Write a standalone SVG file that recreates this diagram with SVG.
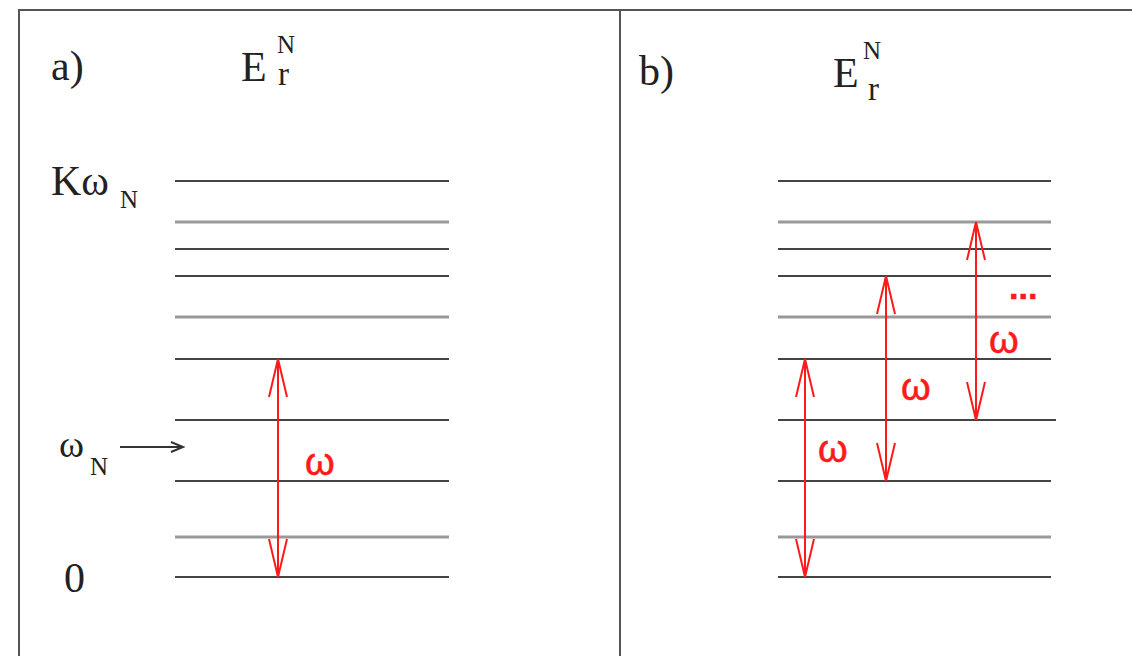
<svg xmlns="http://www.w3.org/2000/svg" width="1132" height="656" viewBox="0 0 1132 656">
  <style>
    .frame { stroke: #555; stroke-width: 2; fill: none; }
    .lvl { stroke: #444; stroke-width: 2; }
    .lvlg { stroke: #999; stroke-width: 3; }
    .serif { font-family: "Liberation Serif", "Times New Roman", serif; fill: #222; }
    .red { stroke: #ff1a1a; stroke-width: 2; fill: none; }
    .redt { font-family: "Liberation Sans", Arial, sans-serif; fill: #ff1a1a; stroke: #ff1a1a; stroke-width: 0.6; }
    .blk { stroke: #333; stroke-width: 2; fill: none; }
  </style>
  <rect width="1132" height="656" fill="#fff"/>
  <g id="frame">
    <path class="frame" d="M19 656 V10 H1132 M620 10 V656"/>
  </g>
  <g id="panel-a">
    <text class="serif" x="51" y="80" font-size="42">a)</text>
    <text class="serif" x="241" y="81" font-size="42">E</text>
    <text class="serif" x="277" y="53" font-size="25">N</text>
    <text class="serif" x="278" y="85" font-size="33">r</text>
    <text class="serif" x="51" y="195" font-size="42">Kω</text>
    <text class="serif" x="120" y="208" font-size="25">N</text>
    <text class="serif" x="59" y="457" font-size="38">ω</text>
    <text class="serif" x="90" y="475" font-size="25">N</text>
    <text class="serif" x="64" y="592" font-size="42">0</text>
    <g id="levels-a">
      <line class="lvl" x1="175" y1="181" x2="449" y2="181"/>
      <line class="lvlg" x1="175" y1="222" x2="449" y2="222"/>
      <line class="lvl" x1="175" y1="249" x2="449" y2="249"/>
      <line class="lvl" x1="175" y1="276" x2="449" y2="276"/>
      <line class="lvlg" x1="175" y1="317" x2="449" y2="317"/>
      <line class="lvl" x1="175" y1="359" x2="449" y2="359"/>
      <line class="lvl" x1="175" y1="420" x2="449" y2="420"/>
      <line class="lvl" x1="175" y1="481" x2="449" y2="481"/>
      <line class="lvlg" x1="175" y1="537" x2="449" y2="537"/>
      <line class="lvl" x1="175" y1="577" x2="449" y2="577"/>
    </g>
    <text class="redt" x="305" y="475" font-size="38">ω</text>
  </g>
  <g id="panel-b">
    <text class="serif" x="639" y="85" font-size="42">b)</text>
    <text class="serif" x="833" y="87" font-size="42">E</text>
    <text class="serif" x="863" y="59" font-size="25">N</text>
    <text class="serif" x="868" y="100" font-size="33">r</text>
    <g id="levels-b">
      <line class="lvl" x1="778" y1="181" x2="1051" y2="181"/>
      <line class="lvlg" x1="778" y1="222" x2="1051" y2="222"/>
      <line class="lvl" x1="778" y1="249" x2="1051" y2="249"/>
      <line class="lvl" x1="778" y1="276" x2="1051" y2="276"/>
      <line class="lvlg" x1="778" y1="317" x2="1051" y2="317"/>
      <line class="lvl" x1="778" y1="359" x2="1051" y2="359"/>
      <line class="lvl" x1="778" y1="420" x2="1056" y2="420"/>
      <line class="lvl" x1="778" y1="481" x2="1051" y2="481"/>
      <line class="lvlg" x1="778" y1="537" x2="1051" y2="537"/>
      <line class="lvl" x1="778" y1="577" x2="1051" y2="577"/>
    </g>
    <text class="redt" x="818" y="462" font-size="38">ω</text>
    <text class="redt" x="901" y="400" font-size="38">ω</text>
    <text class="redt" x="989" y="353" font-size="38">ω</text>
    <text class="redt" x="1009" y="299" font-size="34" font-weight="bold">...</text>
  </g>
  <g id="connectors">
    <path class="blk" d="M120 447 H183 M171 442 L183 447 L171 452"/>
    <path class="red" d="M278 359 V577 M269 397 L278 359 L287 397 M269 539 L278 577 L287 539"/>
    <path class="red" d="M805 359 V577 M796 397 L805 359 L814 397 M796 539 L805 577 L814 539"/>
    <path class="red" d="M886 276 V481 M877 314 L886 276 L895 314 M877 443 L886 481 L895 443"/>
    <path class="red" d="M976 222 V420 M967 260 L976 222 L985 260 M967 382 L976 420 L985 382"/>
  </g>
</svg>
